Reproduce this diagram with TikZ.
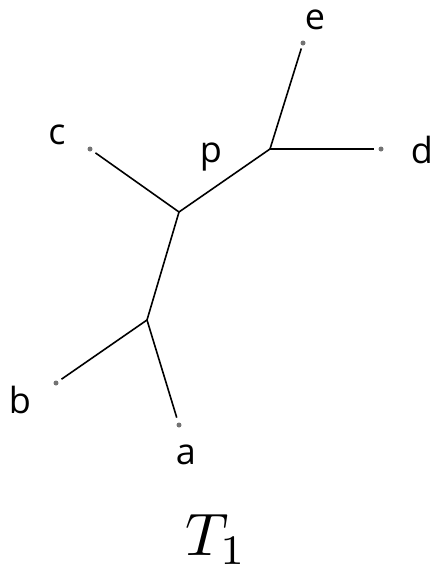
\documentclass[tikz,border=0pt]{standalone}
\usepackage{fontspec}
\newfontfamily\labfont{Open Sans}
\begin{document}
\begin{tikzpicture}[x=1pt,y=-1pt,
  edge/.style={line width=1.6pt,black},
  leafdot/.style={circle,fill=black!55,inner sep=0pt,minimum size=5pt},
  lab/.style={font=\labfont\fontsize{36}{40}\selectfont,inner sep=0pt}]
\useasboundingbox (0,0) rectangle (436,573);
% leaves
\node[leafdot] (e) at (303,43) {};
\node[leafdot] (d) at (381,149) {};
\node[leafdot] (c) at (90,149) {};
\node[leafdot] (b) at (56,383) {};
\node[leafdot] (a) at (179,425) {};
% internal
\coordinate (q) at (270,149);
\coordinate (p) at (179,212);
\coordinate (r) at (147,320);
% edges
\draw[edge,shorten <=3pt] (e) -- (q);
\draw[edge,shorten >=4pt] (q) -- (d);
\draw[edge] (q) -- (p);
\draw[edge,shorten <=4pt] (c) -- (p);
\draw[edge] (p) -- (r);
\draw[edge,shorten >=4pt] (r) -- (b);
\draw[edge,shorten >=5pt] (r) -- (a);
% labels
\node[lab] (le) at (315,20) {e};
\node[lab] (ld) at (422,150) {d};
\node[lab] (lc) at (57,135) {c};
\node[lab] (lp) at (211,157) {p};
\node[lab] (lb) at (20,400) {b};
\node[lab] (la) at (186,455) {a};
\node[inner sep=0pt] (t1) at (216,539) {\scalebox{6.0}{$T_1$}};
\end{tikzpicture}
\end{document}
